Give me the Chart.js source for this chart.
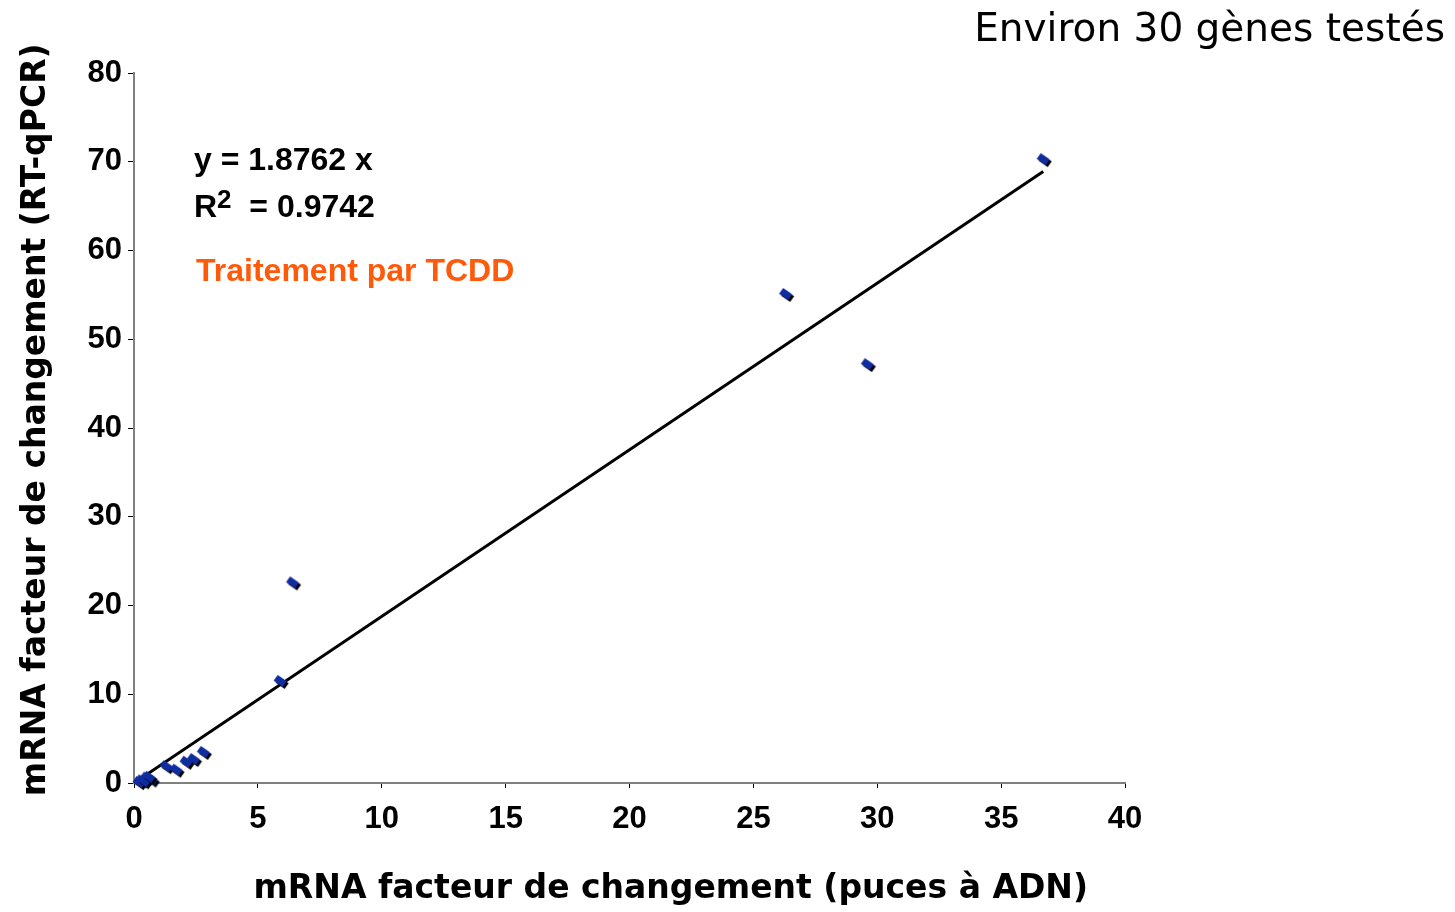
<!DOCTYPE html>
<html>
<head>
<meta charset="utf-8">
<script src="https://cdn.jsdelivr.net/npm/chart.js@4"></script>
<style>
  html, body { margin: 0; padding: 0; background: #fff; }
  #wrap { position: relative; width: 1455px; height: 912px; overflow: hidden; }
  canvas { position: absolute; left: 0; top: 0; }
  .note { position: absolute; white-space: nowrap; font-family: "Liberation Sans", Arial, sans-serif; font-weight: bold; font-size: 32px; color: #000; }
  #title { position: absolute; right: 10px; top: 5px; font-family: "DejaVu Sans", sans-serif; font-size: 39px; color: #000; white-space: nowrap; }
</style>
</head>
<body>
<div id="wrap">
  <canvas id="c" width="1455" height="912"></canvas>
  <div id="title">Environ 30 gènes testés</div>
  <div class="note" style="left:194px; top:141px;">y = 1.8762 x</div>
  <div class="note" style="left:194px; top:184px;">R<sup style="font-size:26px; vertical-align:9px;">2</sup>&nbsp; = 0.9742</div>
  <div class="note" style="left:196px; top:252px; color:#FF5A0A;">Traitement par TCDD</div>
</div>
<script>
// Data
const xValues = [36.7, 26.3, 29.6, 6.4, 5.9, 2.8, 2.4, 2.1, 1.3, 1.7, 0.3, 0.5, 0.2, 0.7, 0.4, 0.6];
const yValues = [70.3, 55.1, 47.2, 22.6, 11.5, 3.5, 2.7, 2.4, 1.9, 1.5, 0.3, 0.6, 0.1, 0.4, 0.2, 0.7];
const trendX = [0, 36.7];
const trendY = [0, 68.9];
const xTicks = [0, 5, 10, 15, 20, 25, 30, 35, 40];
const yTicks = [0, 10, 20, 30, 40, 50, 60, 70, 80];

// Marker image: blue tilted diamond with black shadow
function makeMarker() {
  const c = document.createElement('canvas');
  c.width = 20; c.height = 18;
  const g = c.getContext('2d');
  function shape(dx, dy, color) {
    g.save();
    g.translate(10 + dx, 9 + dy);
    g.rotate(35 * Math.PI / 180);
    g.fillStyle = color;
    g.fillRect(-5.5, -3.5, 11, 7);
    g.restore();
  }
  shape(2, 2, '#000000');
  shape(0, 0, '#0F2DA0');
  return c;
}
const marker = makeMarker();

const points = xValues.map((x, i) => ({ x: x, y: yValues[i] }));
const trend = trendX.map((x, i) => ({ x: x, y: trendY[i] }));

const tickFont = { family: '"Liberation Sans", Arial, sans-serif', weight: 'bold', size: 31 };
const titleFont = { family: '"DejaVu Sans", sans-serif', weight: 'bold', size: 33 };

new Chart(document.getElementById('c'), {
  type: 'scatter',
  data: {
    datasets: [
      {
        type: 'line',
        data: trend,
        borderColor: '#000',
        borderWidth: 3,
        pointRadius: 0,
        fill: false,
        order: 2
      },
      {
        data: points,
        pointStyle: marker,
        pointRadius: 9,
        clip: false,
        order: 1
      }
    ]
  },
  options: {
    responsive: false,
    animation: false,
    layout: { padding: { left: 0, right: 330, top: 73, bottom: 0 } },
    plugins: { legend: { display: false }, tooltip: { enabled: false } },
    scales: {
      x: {
        type: 'linear',
        min: 0, max: 40,
        afterBuildTicks: s => { s.ticks = xTicks.map(v => ({ value: v })); },
        afterFit: s => { s.height = 129; },
        border: { color: '#808080', width: 2 },
        grid: { drawOnChartArea: false, drawTicks: true, tickLength: 5, color: '#000', lineWidth: 1 },
        ticks: { font: tickFont, color: '#000', padding: 13, maxRotation: 0 },
        title: { display: true, text: '\u2003\u2003\u2002mRNA facteur de changement (puces à ADN)', font: titleFont, color: '#000', padding: { top: 0, bottom: 3 } }
      },
      y: {
        type: 'linear',
        min: 0, max: 80,
        afterBuildTicks: s => { s.ticks = yTicks.map(v => ({ value: v })); },
        afterFit: s => { s.width = 134; },
        border: { color: '#808080', width: 2 },
        grid: { drawOnChartArea: false, drawTicks: true, tickLength: 6, color: '#000', lineWidth: 1 },
        ticks: { font: tickFont, color: '#000', padding: 6 },
        title: { display: true, text: '\u2002mRNA facteur de changement (RT-qPCR)', font: titleFont, color: '#000', padding: { top: 17, bottom: 0 } }
      }
    }
  }
});
</script>
</body>
</html>
